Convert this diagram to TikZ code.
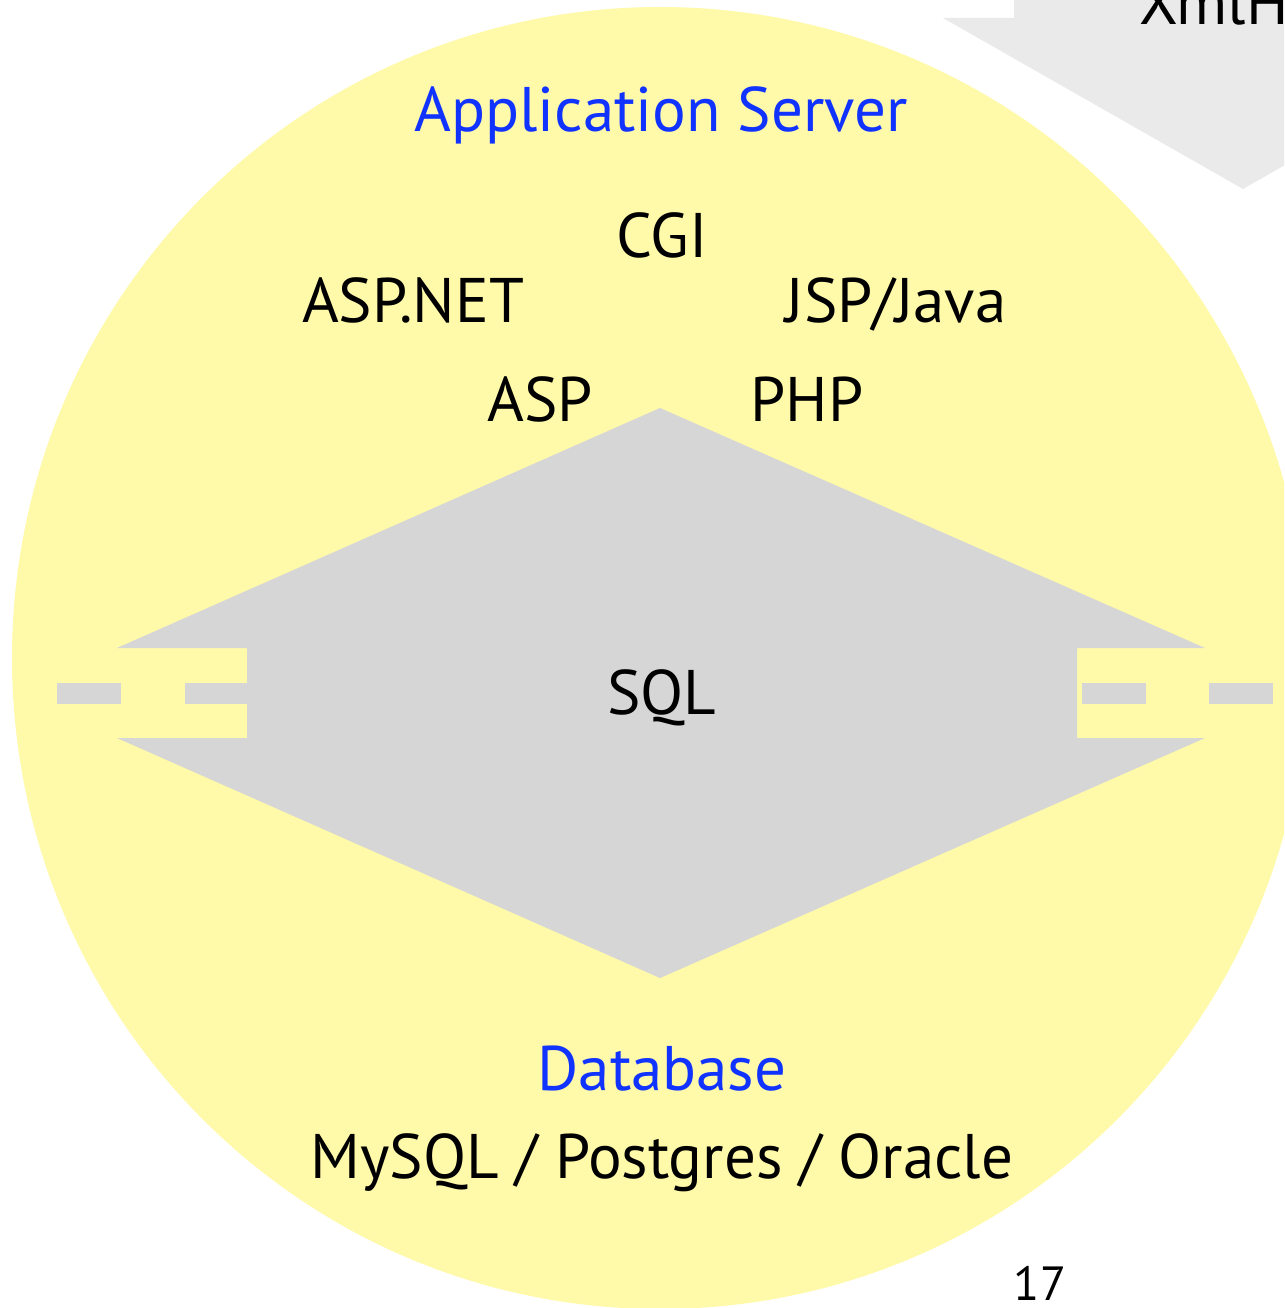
\documentclass[tikz,border=0pt]{standalone}
\usepackage{fontspec}
\setmainfont{PT Sans}
\definecolor{bgyellow}{RGB}{255,249,170}
\definecolor{diagray}{RGB}{214,214,214}
\definecolor{arrgray}{RGB}{234,234,234}
\definecolor{titleblue}{RGB}{17,51,255}
\tikzset{
  lbl/.style={anchor=base, inner sep=0pt, font=\fontsize{63}{70}\selectfont, text=black},
  bluelbl/.style={lbl, text=titleblue},
  pagenum/.style={anchor=base, inner sep=0pt, text depth=0pt, font=\fontsize{48}{54}\selectfont, text=black},
}
\begin{document}
\begin{tikzpicture}[x=1pt,y=-1pt]
\useasboundingbox (0,0) rectangle (1284,1308);
\clip (0,0) rectangle (1284,1308);
% top-right arrow (partly visible)
\fill[arrgray] (1014,-200) -- (1014,18) -- (943,18) -- (1243,189) -- (1543,18) -- (1472,18) -- (1472,-200) -- cycle;
\node[lbl, anchor=base west] (xml) at (1139,25) {XmlHttpRequest};
% yellow circle
\fill[bgyellow] (660,658) ellipse [x radius=648, y radius=651];
% diamond with notched tips
\fill[diagray] (660,408) -- (117,648) -- (247,648) -- (247,738) -- (117,738) -- (660,978)
  -- (1205,738) -- (1077,738) -- (1077,648) -- (1205,648) -- cycle;
% dashes
\fill[diagray] (57,683) rectangle (121,704);
\fill[diagray] (185,683) rectangle (247,704);
\fill[diagray] (1082,683) rectangle (1146,704);
\fill[diagray] (1209,683) rectangle (1273,704);
% texts
\node[bluelbl] (appserver) at (661,132) {Application Server};
\node[lbl] (cgi) at (662,257) {CGI};
\node[lbl] (aspnet) at (413,322) {ASP.NET};
\node[lbl] (jsp) at (896,322) {JSP/Java};
\node[lbl] (asp) at (540,421) {ASP};
\node[lbl] (php) at (807,421) {PHP};
\node[lbl] (sql) at (662,714) {SQL};
\node[bluelbl] (db) at (662,1090) {Database};
\node[lbl] (dbs) at (662,1178) {MySQL / Postgres / Oracle};
\node[pagenum] (pg) at (1040,1300) {17};
\end{tikzpicture}
\end{document}
